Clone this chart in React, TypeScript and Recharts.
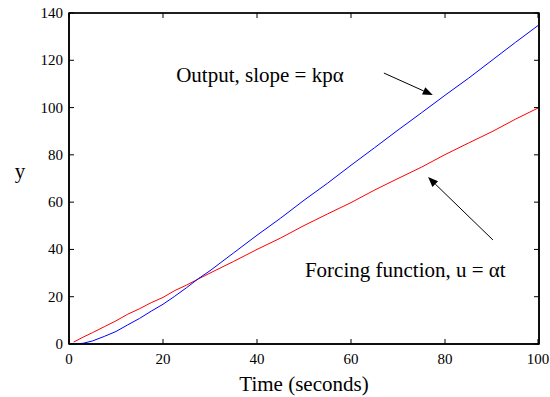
import React from "react";
import {
  LineChart,
  Line,
  XAxis,
  YAxis,
  ReferenceLine,
  ReferenceDot,
} from "recharts";

// readings (seconds -> y)
const time = [1, 3, 5, 7.5, 10, 12.5, 15, 17.5, 20, 22.5, 25, 27.5, 30, 35, 40, 45, 50, 55, 60, 65, 70, 75, 80, 85, 90, 95, 100];
const output = [0, 0.3, 1.3, 3.2, 5.3, 8.1, 10.8, 13.9, 16.8, 20.2, 23.8, 27.6, 31, 38.5, 46, 53.2, 60.8, 68, 75.6, 83, 90.5, 97.8, 105.2, 112.4, 120, 127.6, 135];
const forcing = [0.8, 2.9, 4.8, 7.3, 9.8, 12.6, 14.9, 17.5, 19.7, 22.6, 24.9, 27.5, 30, 34.9, 40, 44.8, 50.1, 55, 59.8, 65.1, 70, 74.8, 80.1, 85, 89.8, 95.1, 100];

const xTicks = [0, 20, 40, 60, 80, 100];
const yTicks = [0, 20, 40, 60, 80, 100, 120, 140];
const X_MAX = 100;
const Y_MAX = 140;

const data = time.map((t, i) => ({ t, output: output[i], forcing: forcing[i] }));

const FONT = "'Liberation Serif', 'Times New Roman', serif";
const TICK_LEN = 5;
const OFF = 8; // default tickSize (6) + tickMargin (2)

const BottomTick = (p: any) => (
  <g>
    <line x1={p.x} y1={p.y - OFF} x2={p.x} y2={p.y - OFF - TICK_LEN} stroke="#000" />
    <text x={p.x} y={p.y - OFF + 20} textAnchor="middle" fontSize={15} fontFamily={FONT} fill="#000">
      {p.payload.value}
    </text>
  </g>
);
const LeftTick = (p: any) => (
  <g>
    <line x1={p.x + OFF} y1={p.y} x2={p.x + OFF + TICK_LEN} y2={p.y} stroke="#000" />
    <text x={p.x + OFF - 6} y={p.y + 5} textAnchor="end" fontSize={15} fontFamily={FONT} fill="#000">
      {p.payload.value}
    </text>
  </g>
);
const TopTick = (p: any) => (
  <line x1={p.x} y1={p.y + OFF} x2={p.x} y2={p.y + OFF + TICK_LEN} stroke="#000" />
);
const RightTick = (p: any) => (
  <line x1={p.x - OFF} y1={p.y} x2={p.x - OFF - TICK_LEN} y2={p.y} stroke="#000" />
);

// box around the plot area, from the pixel corners of (0,0) and (X_MAX,Y_MAX)
const Frame = (p: any) => {
  const left = Math.min(p.x1, p.x2);
  const right = Math.max(p.x1, p.x2);
  const top = Math.min(p.y1, p.y2);
  const bottom = Math.max(p.y1, p.y2);
  return (
    <rect x={left} y={top} width={right - left} height={bottom - top} fill="none" stroke="#000" strokeWidth={1.5} />
  );
};

const Arrow = (p: any) => {
  const { x1, y1, x2, y2 } = p;
  const a = Math.atan2(y2 - y1, x2 - x1);
  const len = 10;
  const w = 4;
  const bx = x2 - len * Math.cos(a);
  const by = y2 - len * Math.sin(a);
  const nx = -Math.sin(a) * w;
  const ny = Math.cos(a) * w;
  return (
    <g>
      <line x1={x1} y1={y1} x2={bx} y2={by} stroke="#000" strokeWidth={1} />
      <polygon points={`${x2},${y2} ${bx + nx},${by + ny} ${bx - nx},${by - ny}`} fill="#000" />
    </g>
  );
};

const note = (text: string) => (p: any) => (
  <text x={p.cx} y={p.cy} fontSize={21} fontFamily={FONT} fill="#000">
    {text}
  </text>
);

export default function App() {
  return (
    <div style={{ position: "absolute", left: 0, top: 0, background: "#fff" }}>
      <LineChart width={550} height={397} data={data} margin={{ top: 3, right: 1, left: 0, bottom: 0 }}>
        <XAxis
          dataKey="t"
          type="number"
          domain={[0, X_MAX]}
          ticks={xTicks}
          height={53}
          tickLine={false}
          axisLine={{ stroke: "#000", strokeWidth: 1.5 }}
          tick={BottomTick}
          label={(p: any) => (
            <text
              x={p.viewBox.x + p.viewBox.width / 2}
              y={p.viewBox.y + 47}
              textAnchor="middle"
              fontSize={21}
              fontFamily={FONT}
              fill="#000"
            >
              Time (seconds)
            </text>
          )}
        />
        <XAxis
          xAxisId="top"
          orientation="top"
          dataKey="t"
          type="number"
          domain={[0, X_MAX]}
          ticks={xTicks}
          height={10}
          tickLine={false}
          axisLine={{ stroke: "#000" }}
          tick={TopTick}
        />
        <YAxis
          type="number"
          domain={[0, Y_MAX]}
          ticks={yTicks}
          width={69}
          tickLine={false}
          axisLine={{ stroke: "#000", strokeWidth: 1.5 }}
          tick={LeftTick}
          label={(p: any) => (
            <text
              x={p.viewBox.x + 20}
              y={p.viewBox.y + 165}
              textAnchor="middle"
              fontSize={21}
              fontFamily={FONT}
              fill="#000"
            >
              y
            </text>
          )}
        />
        <YAxis
          yAxisId="right"
          orientation="right"
          type="number"
          domain={[0, Y_MAX]}
          ticks={yTicks}
          width={10}
          tickLine={false}
          axisLine={{ stroke: "#000", strokeWidth: 1.5 }}
          tick={RightTick}
        />
        <ReferenceLine segment={[{ x: 0, y: 0 }, { x: X_MAX, y: Y_MAX }]} shape={Frame} />
        <Line
          type="linear"
          dataKey="forcing"
          xAxisId="top"
          yAxisId="right"
          stroke="#ff0000"
          strokeWidth={1}
          dot={false}
          isAnimationActive={false}
        />
        <Line type="linear" dataKey="output" stroke="#0000ff" strokeWidth={1} dot={false} isAnimationActive={false} />
        <ReferenceLine segment={[{ x: 67, y: 114.6 }, { x: 77.4, y: 105.3 }]} shape={Arrow} />
        <ReferenceLine segment={[{ x: 90.2, y: 44 }, { x: 76.4, y: 70.6 }]} shape={Arrow} />
        <ReferenceDot x={22.8} y={110.8} r={0} shape={note("Output, slope = kpα")} />
        <ReferenceDot x={50.2} y={28.3} r={0} shape={note("Forcing function, u = αt")} />
      </LineChart>
    </div>
  );
}
